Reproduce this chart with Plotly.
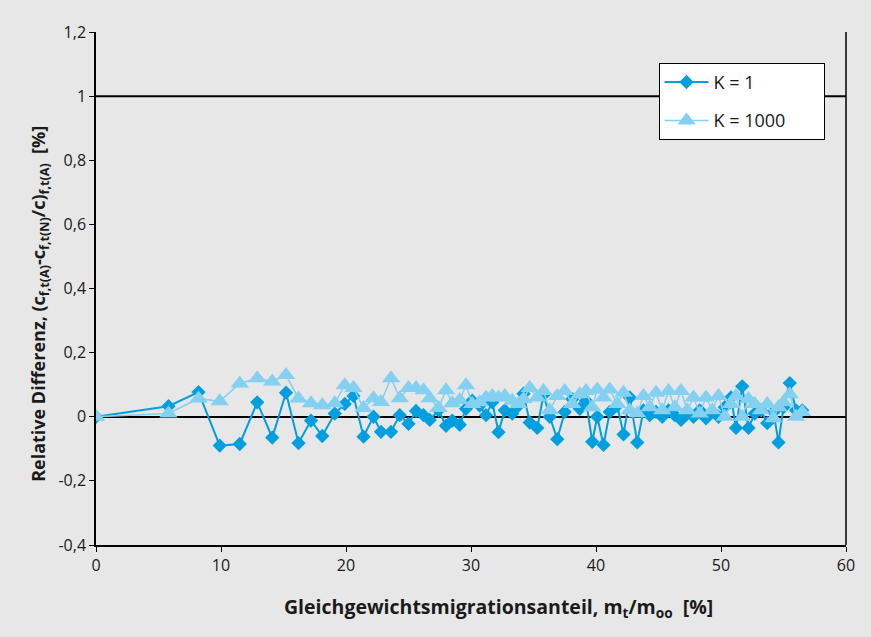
import plotly.graph_objects as go

x_vals = [0, 5.8, 8.2, 9.9, 11.5, 12.9, 14.1, 15.2, 16.2, 17.2, 18.1, 19.1, 19.9, 20.6,
          21.4, 22.2, 22.8, 23.6, 24.3, 25.0, 25.6, 26.2, 26.7, 27.4, 28.0, 28.5, 29.1,
          29.6, 30.1, 30.7, 31.2, 31.7, 32.2, 32.7, 33.3, 33.8, 34.2, 34.7, 35.3, 35.8,
          36.3, 36.9, 37.5, 38.1, 38.7, 39.2, 39.7, 40.1, 40.6, 41.1, 41.7, 42.2, 42.7,
          43.3, 43.8, 44.3, 44.8, 45.3, 45.8, 46.3, 46.8, 47.3, 47.8, 48.3, 48.8, 49.3,
          49.8, 50.3, 50.8, 51.2, 51.7, 52.2, 52.7, 53.2, 53.7, 54.2, 54.6, 55.0, 55.5,
          56.0, 56.5]

k1_vals = [0, 0.033, 0.077, -0.09, -0.085, 0.045, -0.065, 0.075, -0.082, -0.012, -0.06,
           0.01, 0.04, 0.065, -0.062, 0.0, -0.047, -0.047, 0.005, -0.022, 0.018, 0.005,
           -0.01, 0.02, -0.028, -0.012, -0.025, 0.025, 0.05, 0.035, 0.005, 0.045, -0.048,
           0.02, 0.01, 0.035, 0.072, -0.018, -0.035, 0.068, 0.0, -0.07, 0.015, 0.055,
           0.025, 0.05, -0.078, 0.0, -0.088, 0.015, 0.035, -0.055, 0.06, -0.08, 0.02,
           0.005, 0.015, 0.0, 0.02, 0.005, -0.01, 0.01, 0.0, 0.02, -0.005, 0.015, 0.0,
           0.03, 0.06, -0.035, 0.095, -0.035, 0.01, 0.02, -0.02, 0.015, -0.08, 0.03,
           0.105, 0.02, 0.02]

k1000_vals = [0, 0.01, 0.057, 0.048, 0.104, 0.12, 0.11, 0.13, 0.057, 0.042, 0.036, 0.042,
              0.098, 0.09, 0.027, 0.058, 0.046, 0.12, 0.058, 0.09, 0.09, 0.083, 0.058,
              0.027, 0.083, 0.042, 0.052, 0.098, 0.04, 0.045, 0.06, 0.065, 0.06, 0.065,
              0.05, 0.04, 0.055, 0.09, 0.06, 0.08, 0.02, 0.065, 0.08, 0.04, 0.07, 0.08,
              0.03, 0.085, 0.06, 0.085, 0.04, 0.075, 0.02, 0.01, 0.065, 0.03, 0.075, 0.02,
              0.08, 0.03, 0.08, 0.02, 0.06, 0.01, 0.06, 0.02, 0.065, 0.0, 0.04, 0.065, 0.0,
              0.055, 0.04, 0.02, 0.04, -0.005, 0.03, 0.045, 0.07, 0.0, 0.015]

y_ticks = [-0.4, -0.2, 0, 0.2, 0.4, 0.6, 0.8, 1.0, 1.2]
y_tick_labels = ["-0,4", "-0,2", "0", "0,2", "0,4", "0,6", "0,8", "1", "1,2"]
x_ticks = [0, 10, 20, 30, 40, 50, 60]

series_names = ["K = 1", "K = 1000"]
x_title = "<b>Gleichgewichtsmigrationsanteil, m<sub>t</sub>/m<sub>oo</sub>  [%]</b>"
y_title = "<b>Relative Differenz, (c<sub>f,t(A)</sub>-c<sub>f,t(N)</sub>/c)<sub>f,t(A)</sub>  [%]</b>"

BG = "#e7e7e7"
FONT = "Open Sans"
PAD = "\u00a0" * 7  # widen the legend box

fig = go.Figure()
fig.add_trace(go.Scatter(
    x=x_vals, y=k1_vals, mode="lines+markers", name=series_names[0], legendgroup="a",
    line=dict(color="#009fe0", width=2),
    marker=dict(symbol="diamond", size=11, color="#009fe0"),
))
fig.add_trace(go.Scatter(
    x=x_vals, y=k1000_vals, mode="lines+markers", name=series_names[1] + PAD, legendgroup="b",
    line=dict(color="#84d0f0", width=1.5),
    marker=dict(symbol="triangle-up", size=16, color="#84d0f0"),
))

fig.add_shape(type="line", xref="paper", yref="y", x0=0, x1=1, y0=1, y1=1,
              line=dict(color="black", width=2), layer="below")
fig.add_shape(type="line", xref="paper", yref="paper", x0=1, x1=1, y0=0, y1=1,
              line=dict(color="black", width=1.5))

fig.add_annotation(text=x_title, xref="paper", yref="paper", x=0.536, y=-0.121,
                   xanchor="center", yanchor="middle", showarrow=False,
                   font=dict(size=19.5, family=FONT, color="#1a1a1a"))
fig.add_annotation(text=y_title, xref="paper", yref="paper", x=-0.0747, y=0.47,
                   xanchor="center", yanchor="middle", showarrow=False, textangle=-90,
                   font=dict(size=18, family=FONT, color="#1a1a1a"))

fig.update_layout(
    width=871, height=637,
    paper_bgcolor=BG, plot_bgcolor=BG,
    margin=dict(l=96, r=25, t=32, b=92),
    font=dict(family=FONT, size=16, color="#1a1a1a"),
    showlegend=True,
    legend=dict(x=0.75, y=0.94, xanchor="left", yanchor="top",
                bgcolor="white", bordercolor="black", borderwidth=1,
                font=dict(size=18, family=FONT), tracegroupgap=12,
                itemwidth=44),
    xaxis=dict(range=[0, 60], tickvals=x_ticks, showgrid=False, zeroline=False,
               showline=True, linecolor="black", linewidth=1.5,
               ticks="outside", ticklen=5, tickcolor="black",
               tickfont=dict(size=16)),
    yaxis=dict(range=[-0.4, 1.2], tickvals=y_ticks, ticktext=y_tick_labels,
               showgrid=False, zeroline=True, zerolinecolor="black", zerolinewidth=2,
               showline=True, linecolor="black", linewidth=1.5,
               ticks="outside", ticklen=5, tickcolor="black",
               tickfont=dict(size=16)),
)

fig.write_html("out.html", config={"displayModeBar": False},
               post_script="document.body.style.margin='0';")
